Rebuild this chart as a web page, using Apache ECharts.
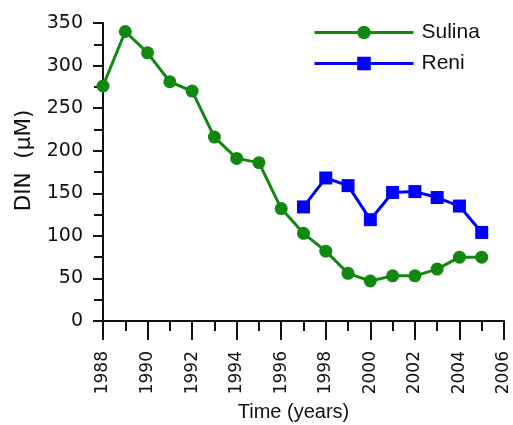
<!DOCTYPE html>
<html>
<head>
<meta charset="utf-8">
<script src="https://cdn.jsdelivr.net/npm/echarts@6/dist/echarts.min.js"></script>
<style>
  html, body { margin: 0; padding: 0; background: #ffffff; }
  #chart { width: 513px; height: 425px; }
</style>
</head>
<body>
<div id="chart"></div>
<script>
// Dissolved inorganic nitrogen at the two Danube stations
const years = [1988, 1989, 1990, 1991, 1992, 1993, 1994, 1995, 1996,
               1997, 1998, 1999, 2000, 2001, 2002, 2003, 2004, 2005];
const sulina = [276, 340, 315, 281, 270, 216, 191, 186, 132,
                103, 82, 56, 47, 53, 53, 61, 75, 75];
const reniYears = [1997, 1998, 1999, 2000, 2001, 2002, 2003, 2004, 2005];
const reni = [134, 168, 159, 119, 151, 152, 145, 135, 104];

const GREEN = '#118811';
const BLUE = '#0000ff';
const INK = '#111111';
const SANS = 'Liberation Sans, Arial, sans-serif';
const WIDE = 'DejaVu Sans, Verdana, sans-serif';

const chart = echarts.init(document.getElementById('chart'));

chart.setOption({
  backgroundColor: '#ffffff',
  animation: false,
  grid: { left: 103, top: 23, width: 401, height: 298, containLabel: false, outerBoundsMode: 'none' },
  legend: {
    left: 308,
    top: 17,
    orient: 'vertical',
    itemWidth: 99,
    itemHeight: 17,
    itemGap: 10,
    lineStyle: { width: 3 },
    textStyle: { fontFamily: SANS, fontSize: 21, color: INK, padding: [0, 0, 0, 3] },
    data: ['Sulina', 'Reni']
  },
  xAxis: {
    type: 'value',
    min: 1988,
    max: 2006,
    interval: 2,
    name: 'Time (years)',
    nameLocation: 'middle',
    nameGap: 78,
    nameTextStyle: { fontFamily: SANS, fontSize: 20, color: INK, padding: [0, 20, 0, 0] },
    axisLine: { onZero: false, lineStyle: { color: INK, width: 2 } },
    axisTick: { length: 19, lineStyle: { color: INK, width: 2 } },
    minorTick: { show: true, splitNumber: 2, length: 10, lineStyle: { color: INK, width: 2 } },
    axisLabel: {
      rotate: 90, margin: 30, fontFamily: WIDE, fontSize: 17, color: INK,
      formatter: v => String(v)
    },
    splitLine: { show: false }
  },
  yAxis: {
    type: 'value',
    min: 0,
    max: 350,
    interval: 50,
    name: 'DIN  (µM)',
    nameLocation: 'middle',
    nameGap: 67,
    nameTextStyle: { fontFamily: WIDE, fontSize: 21.5, color: INK, padding: [0, 0, 0, 23] },
    axisLine: { show: true, lineStyle: { color: INK, width: 2 } },
    axisTick: { show: true, length: 10, lineStyle: { color: INK, width: 2 } },
    minorTick: { show: true, splitNumber: 2, length: 9, lineStyle: { color: INK, width: 2 } },
    axisLabel: { margin: 20, fontFamily: WIDE, fontSize: 19, color: INK },
    splitLine: { show: false }
  },
  series: [
    {
      name: 'Sulina',
      type: 'line',
      data: years.map((y, i) => [y, sulina[i]]),
      symbol: 'circle',
      symbolSize: 13,
      lineStyle: { color: GREEN, width: 3 },
      itemStyle: { color: GREEN },
      z: 3
    },
    {
      name: 'Reni',
      type: 'line',
      data: reniYears.map((y, i) => [y, reni[i]]),
      symbol: 'rect',
      symbolSize: 13,
      lineStyle: { color: BLUE, width: 3 },
      itemStyle: { color: BLUE },
      z: 2
    }
  ]
});
</script>
</body>
</html>
